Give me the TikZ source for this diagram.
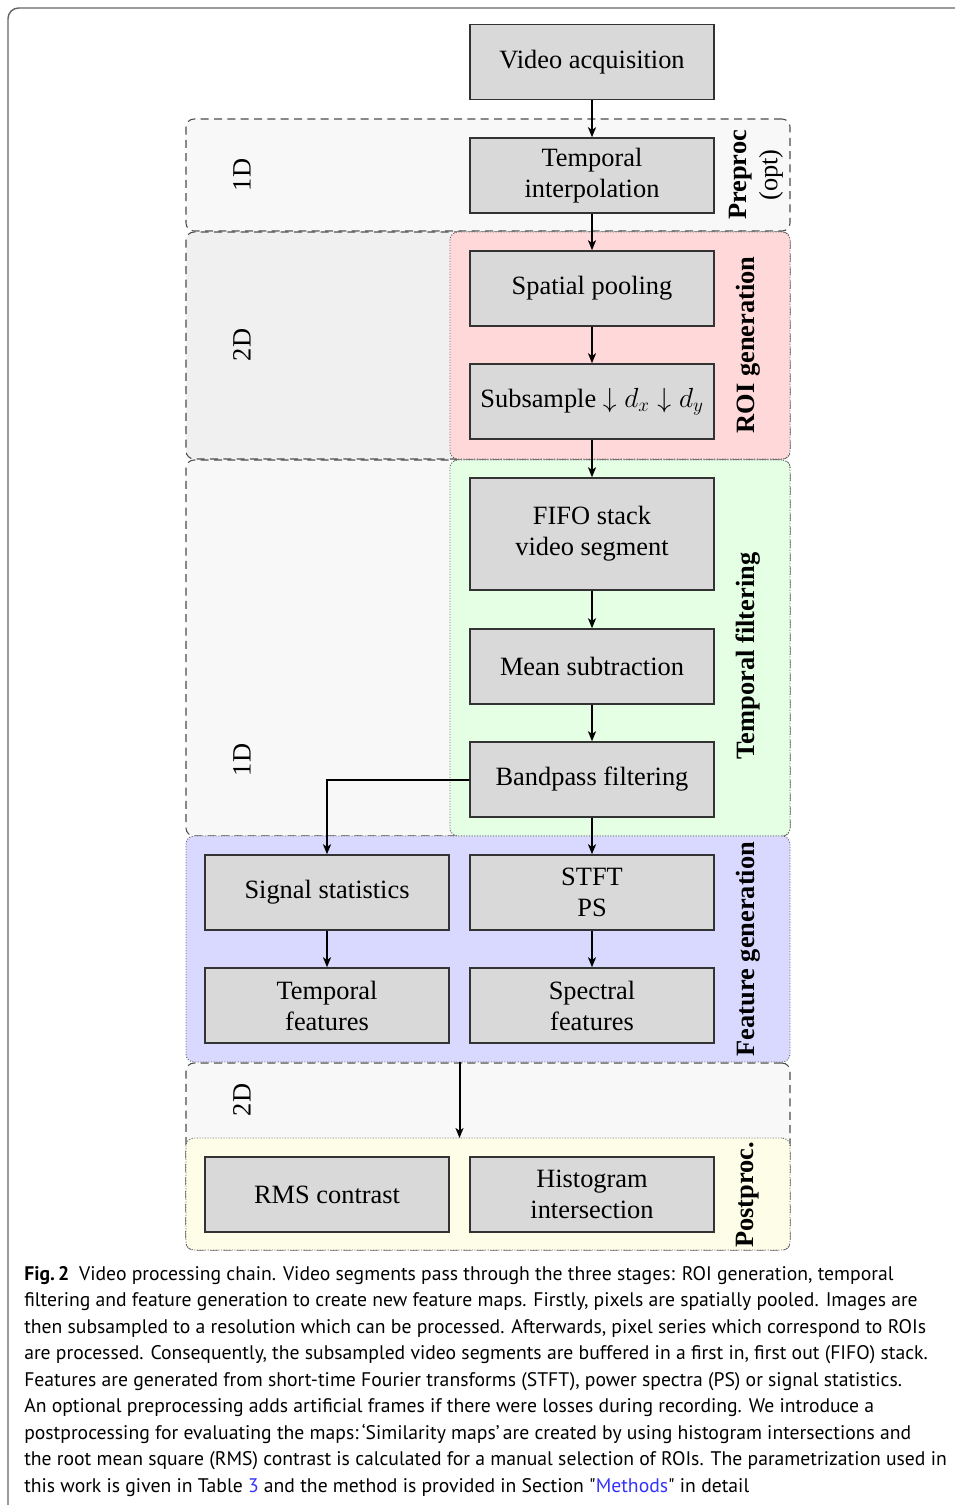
\documentclass[tikz,border=0pt]{standalone}
\usepackage{fontspec}
\setmainfont{Liberation Serif}
\newfontfamily\capfont{PT Sans}
\usetikzlibrary{arrows.meta}
\definecolor{boxfill}{HTML}{D9D9D9}
\definecolor{boxline}{HTML}{333333}
\definecolor{greyA}{HTML}{F8F8F8}
\definecolor{greyB}{HTML}{F0F0F0}
\definecolor{roifill}{HTML}{FFD9D9}
\definecolor{tffill}{HTML}{E5FFE5}
\definecolor{fgfill}{HTML}{D9D9FF}
\definecolor{ppfill}{HTML}{FDFDE8}
\definecolor{linkblue}{HTML}{3333FF}
\newcommand{\boxfont}{\fontsize{19.8pt}{23.25pt}\selectfont}
\newcommand{\capsize}{\capfont\fontsize{14.75pt}{19.9pt}\selectfont}
\begin{document}
\begin{tikzpicture}[x=0.75pt,y=-0.75pt,
  box/.style={draw=boxline, fill=boxfill, line width=1.1pt, minimum width=183pt,
    minimum height=56.25pt, inner sep=0pt, align=center, font=\boxfont},
  region/.style={rounded corners=6pt, inner sep=0pt, outer sep=0pt},
  dregion/.style={region, draw=black!70, dash pattern=on 6pt off 4pt, line width=0.8pt},
  cregion/.style={region, draw=black!60, dash pattern=on 0.8pt off 1.2pt, line width=0.7pt},
  dimlabel/.style={rotate=90, font=\boxfont},
  stagelabel/.style={rotate=90, font=\boxfont\bfseries, align=center},
  arr/.style={line width=1.5pt, -{Stealth[length=7.5pt,width=6pt,inset=2pt]}},
  capline/.style={anchor=base west, inner sep=0pt, font=\capsize},
  frame/.style={draw=black!60, line width=1.1pt, rounded corners=8pt}
]
\useasboundingbox (0,0) rectangle (955,1505);
% outer frame
\draw[frame] (956,8) -- (8,8) -- (8,1506);

% grey dimension regions
\node[dregion, fill=greyA, minimum width=453pt, minimum height=84pt] (pre) at (488,175) {};
\node[dregion, fill=greyB, minimum width=453pt, minimum height=170.25pt] (twoA) at (488,345.5) {};
\node[dregion, fill=greyA, minimum width=453pt, minimum height=282pt] (oneD) at (488,648) {};
\node[dregion, fill=greyA, minimum width=453pt, minimum height=140.25pt] (twoB) at (488,1156.5) {};

% coloured stage regions
\node[cregion, fill=roifill, minimum width=255pt, minimum height=170.25pt] (roi) at (620,345.5) {};
\node[cregion, fill=tffill, minimum width=255pt, minimum height=282pt] (tfr) at (620,648) {};
\node[cregion, fill=fgfill, minimum width=453pt, minimum height=169.5pt] (fg) at (488,949) {};
\node[cregion, fill=ppfill, minimum width=453pt, minimum height=84pt] (pp) at (488,1194) {};

% dimension labels
\node[dimlabel] (d1) at (242,175) {1D};
\node[dimlabel] (d2) at (242,345) {2D};
\node[dimlabel] (d3) at (242,760) {1D};
\node[dimlabel] (d4) at (242,1100) {2D};

% stage labels
\node[stagelabel] (lpre) at (756,175) {Preproc\\\mdseries(opt)};
\node[stagelabel] (lroi) at (748,345) {ROI generation};
\node[stagelabel] (ltf) at (748,656) {Temporal filtering};
\node[stagelabel] (lfg) at (748,949) {Feature generation};
\node[stagelabel] (lpp) at (748,1195) {Postproc.};

% boxes
\node[box] (va) at (592,62) {Video acquisition};
\node[box] (ti) at (592,175.5) {Temporal\\interpolation};
\node[box] (sp) at (592,288.5) {Spatial pooling};
\node[box] (ss) at (592,401.5) {Subsample $\downarrow d_x \downarrow d_y$};
\node[box, minimum height=84pt] (fifo) at (592,534) {FIFO stack\\video segment};
\node[box] (ms) at (592,666.5) {Mean subtraction};
\node[box] (bp) at (592,779.5) {Bandpass filtering};
\node[box] (sig) at (327,892.5) {Signal statistics};
\node[box] (stft) at (592,892.5) {STFT\\PS};
\node[box] (tf) at (327,1005.5) {Temporal\\features};
\node[box] (sf) at (592,1005.5) {Spectral\\features};
\node[box] (rms) at (327,1194.5) {RMS contrast};
\node[box] (hi) at (592,1194.5) {Histogram\\intersection};

% connectors
\draw[arr] (va) -- (ti);
\draw[arr] (ti) -- (sp);
\draw[arr] (sp) -- (ss);
\draw[arr] (ss) -- (fifo);
\draw[arr] (fifo) -- (ms);
\draw[arr] (ms) -- (bp);
\draw[arr] (bp) -- (stft);
\draw[arr] (bp.west) -| (sig.north);
\draw[arr] (sig) -- (tf);
\draw[arr] (stft) -- (sf);
\coordinate (mid) at (459.5,1100);
\draw[arr] (fg.south -| mid) -- (pp.north -| mid);

% caption
\node[capline] (c1) at (24,1280) {\textbf{Fig.\,2}\hspace{0.5em}Video processing chain. Video segments pass through the three stages: ROI generation, temporal};
\node[capline] (c2) at (24,1306.5) {filtering and feature generation to create new feature maps. Firstly, pixels are spatially pooled. Images are};
\node[capline] (c3) at (24,1333) {then subsampled to a resolution which can be processed. Afterwards, pixel series which correspond to ROIs};
\node[capline] (c4) at (24,1359.5) {are processed. Consequently, the subsampled video segments are buffered in a first in, first out (FIFO) stack.};
\node[capline] (c5) at (24,1386) {Features are generated from short-time Fourier transforms (STFT), power spectra (PS) or signal statistics.};
\node[capline] (c6) at (24,1412.5) {An optional preprocessing adds artificial frames if there were losses during recording. We introduce a};
\node[capline] (c7) at (24,1439) {postprocessing for evaluating the maps:\,‘Similarity maps’\,are created by using histogram intersections and};
\node[capline] (c8) at (24,1465.5) {the root mean square (RMS) contrast is calculated for a manual selection of ROIs. The parametrization used in};
\node[capline] (c9) at (24,1492) {this work is given in Table \textcolor{linkblue}{3} and the method is provided in Section "\textcolor{linkblue}{Methods}" in detail};
\end{tikzpicture}
\end{document}
